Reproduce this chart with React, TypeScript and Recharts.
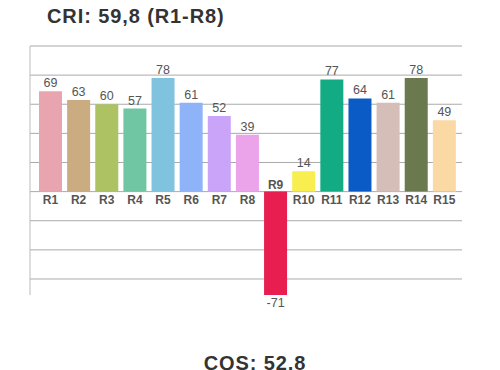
import React from 'react';
import { BarChart, Bar, XAxis, YAxis, ReferenceLine, Cell, LabelList } from 'recharts';

const names = ['R1', 'R2', 'R3', 'R4', 'R5', 'R6', 'R7', 'R8', 'R9', 'R10', 'R11', 'R12', 'R13', 'R14', 'R15'];
const values = [69, 63, 60, 57, 78, 61, 52, 39, -71, 14, 77, 64, 61, 78, 49];
const colors = [
  '#e8a5b0', '#cbab80', '#adc262', '#70c6a2', '#7fc3df', '#8fb3f9', '#caa4f8', '#eba3ea',
  '#e81e50', '#f8ee4f', '#12ab84', '#0a5bc6', '#d4beb7', '#6a7a4e', '#fbd9a5',
];
const yTicks = [100, 80, 60, 40, 20, 0, -20, -40, -60];

const data = names.map((name, i) => ({ name, value: values[i] }));

const font = '"Liberation Sans", Arial, Helvetica, sans-serif';

const ValueLabel = (props: any) => {
  const { x, y, width, height, value } = props;
  const top = Math.min(y, y + height);
  const bottom = Math.max(y, y + height);
  const cx = x + width / 2;
  const ty = value >= 0 ? top - 4 : bottom + 12;
  return (
    <text x={cx} y={ty} textAnchor="middle" fontSize={12.5} fill="#555" fontFamily={font}>
      {value}
    </text>
  );
};

const NameLabel = (props: any) => {
  const { x, y, width, height, index } = props;
  const top = Math.min(y, y + height);
  const bottom = Math.max(y, y + height);
  const v = values[index];
  const cx = x + width / 2;
  const ty = v >= 0 ? bottom + 12.5 : top - 3;
  return (
    <text x={cx} y={ty} textAnchor="middle" fontSize={12} fontWeight="bold" fill="#555" fontFamily={font}>
      {names[index]}
    </text>
  );
};

const NoTick = () => <g />;

const titleStyle: React.CSSProperties = {
  position: 'absolute',
  fontSize: 20,
  lineHeight: '20px',
  fontWeight: 'bold',
  color: '#333',
  letterSpacing: 0.9,
  whiteSpace: 'nowrap',
};

export default function App() {
  return (
    <div style={{ position: 'absolute', left: 0, top: 0, width: 500, height: 370, background: '#fff', overflow: 'hidden', fontFamily: font }}>
      <div style={{ ...titleStyle, left: 47, top: 5.5 }}>CRI: 59,8 (R1-R8)</div>
      <BarChart width={500} height={370} data={data} margin={{ top: 46, right: 38, bottom: 75, left: 29 }}>
        <XAxis dataKey="name" hide padding={{ left: 6, right: 4 }} />
        <YAxis
          width={1}
          domain={[-71, 100]}
          ticks={yTicks}
          interval={0}
          tick={NoTick}
          tickLine={false}
          axisLine={{ stroke: '#bbb' }}
          allowDataOverflow
        />
        {/* grid rows sit behind the bars */}
        {yTicks.map((t) => (
          <ReferenceLine key={t} y={t} stroke="#aaa" strokeWidth={1} zIndex={-100} />
        ))}
        <Bar dataKey="value" barSize={23} isAnimationActive={false}>
          {data.map((d, i) => (
            <Cell key={d.name} fill={colors[i]} />
          ))}
          <LabelList dataKey="value" content={ValueLabel} />
          <LabelList dataKey="name" content={NameLabel} />
        </Bar>
      </BarChart>
      <div style={{ ...titleStyle, left: 155, width: 200, top: 352.5, textAlign: 'center' }}>CQS: 52,8</div>
    </div>
  );
}
